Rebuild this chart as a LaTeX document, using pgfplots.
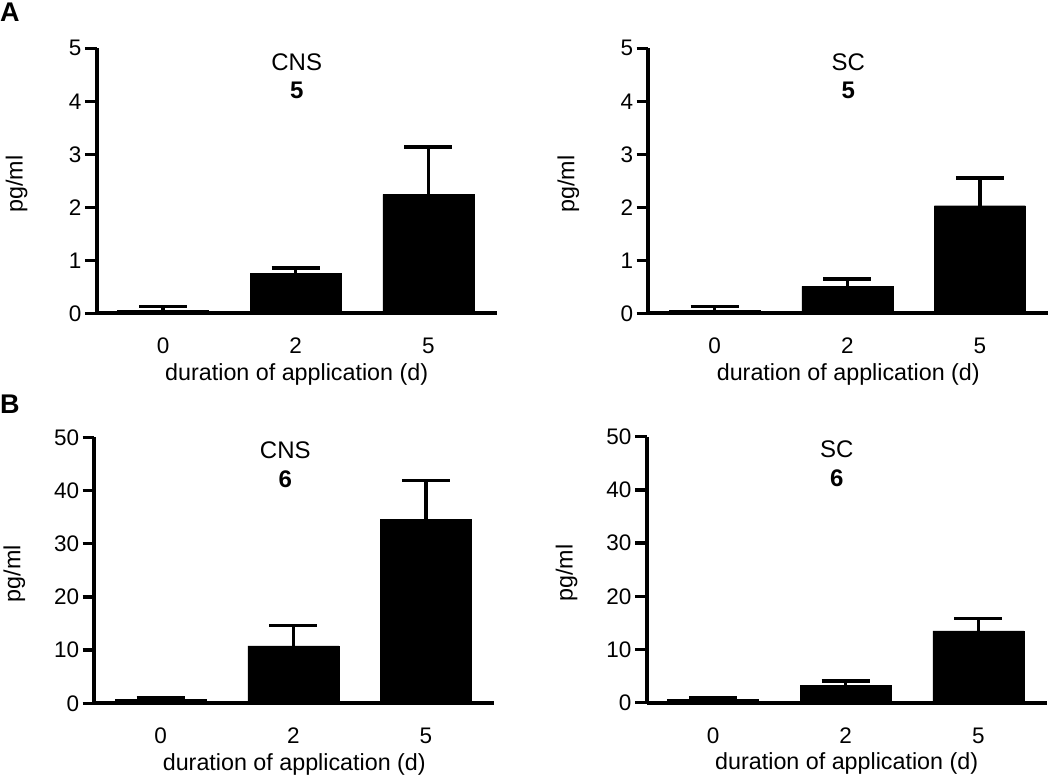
\documentclass[border=0pt]{standalone}
\usepackage{fontspec}
\setmainfont{Liberation Sans}
\usepackage{pgfplots}
\pgfplotsset{compat=1.18}

\pgfplotsset{
  panel/.style={
    scale only axis, width=400pt, height=265pt,
    anchor=south west, clip=false,
    axis x line=bottom, axis y line=left,
    axis line style={-, line width=4pt, black},
    xmin=-0.5, xmax=2.515, ymin=0,
    enlargelimits=false,
    xtick={0,1,2}, xticklabels={0,2,5},
    xtick style={draw=none},
    ytick style={line width=3.5pt, black},
    tick align=outside, major tick length=11.7pt,
    tick label style={font=\fontsize{22.5}{26}\selectfont},
    /pgf/number format/assume math mode=true,
    xticklabel style={anchor=center, yshift=-21pt},
    label style={font=\fontsize{23.3}{27}\selectfont},
    xlabel={duration of application (d)},
    ylabel={pg/ml},
    xlabel style={at={(axis description cs:0.5,0)}, anchor=center, yshift=-60.7pt},
    ylabel style={at={(axis description cs:-0.2,0.487)}, anchor=center},
    ybar, bar width=0.686,
  },
  bars/.style={
    fill=black, draw=black,
    error bars/.cd, y dir=plus, y explicit,
    error bar style={line width=3.5pt, black},
    error mark options={rotate=90, mark size=24pt, line width=3.5pt, black},
  },
}

\begin{document}
\begin{tikzpicture}
\useasboundingbox (0,0) rectangle (1050pt,777pt);

% panel letters
\node[anchor=base west, inner sep=0pt, font=\fontsize{27}{31}\selectfont\bfseries] at (0pt,755.3pt) {A};
\node[anchor=base west, inner sep=0pt, font=\fontsize{27}{31}\selectfont\bfseries] at (0pt,363pt) {B};

% A, CNS
\begin{axis}[panel, at={(96.7pt,463.7pt)}, ymax=5, ytick={0,1,...,5}]
\addplot[bars] coordinates {(0,0.06) +- (0,0.065) (1,0.755) +- (0,0.095) (2,2.245) +- (0,0.895)};
\node[font=\fontsize{24}{28}\selectfont] at (rel axis cs:0.5,0.948) {CNS};
\node[font=\fontsize{24}{28}\selectfont\bfseries] at (rel axis cs:0.5,0.843) {5};
\end{axis}

% A, SC
\begin{axis}[panel, at={(648.3pt,463.7pt)}, ymax=5, ytick={0,1,...,5}]
\addplot[bars] coordinates {(0,0.06) +- (0,0.066) (1,0.51) +- (0,0.14) (2,2.03) +- (0,0.52)};
\node[font=\fontsize{24}{28}\selectfont] at (rel axis cs:0.5,0.948) {SC};
\node[font=\fontsize{24}{28}\selectfont\bfseries] at (rel axis cs:0.5,0.843) {5};
\end{axis}

% B, CNS
\begin{axis}[panel, at={(94.3pt,73.7pt)}, height=266pt, ymax=50, ytick={0,10,...,50}]
\addplot[bars] coordinates {(0,0.75) +- (0,0.38) (1,10.8) +- (0,3.8) (2,34.6) +- (0,7.3)};
\node[font=\fontsize{24}{28}\selectfont, xshift=-9pt] at (rel axis cs:0.5,0.952) {CNS};
\node[font=\fontsize{24}{28}\selectfont\bfseries, xshift=-9pt] at (rel axis cs:0.5,0.842) {6};
\end{axis}

% B, SC
\begin{axis}[panel, at={(646.7pt,74.3pt)}, height=266pt, ymax=50, ytick={0,10,...,50}]
\addplot[bars] coordinates {(0,0.63) +- (0,0.37) (1,3.2) +- (0,0.9) (2,13.5) +- (0,2.3)};
\node[font=\fontsize{24}{28}\selectfont, xshift=-10pt] at (rel axis cs:0.5,0.952) {SC};
\node[font=\fontsize{24}{28}\selectfont\bfseries, xshift=-10pt] at (rel axis cs:0.5,0.842) {6};
\end{axis}
\end{tikzpicture}
\end{document}
